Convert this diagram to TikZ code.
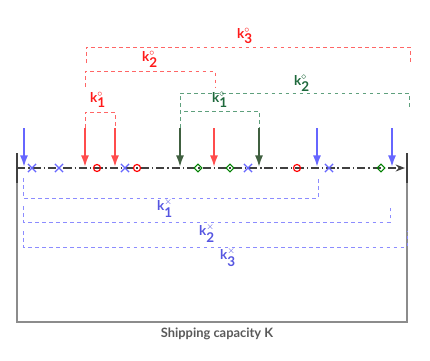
\documentclass[tikz,border=0pt]{standalone}
\usepackage{fontspec}
\setmainfont{Lato}
\usetikzlibrary{arrows.meta,shapes.misc,shapes.geometric}
\definecolor{darkgreen}{RGB}{64,96,64}
\definecolor{labgreen}{RGB}{30,105,60}
\definecolor{brgreen}{RGB}{95,160,125}
\definecolor{labblue}{RGB}{85,85,225}
\newcommand{\klab}[2]{$\textbf{k}^{#1}_{\textbf{#2}}$}
\begin{document}
\begin{tikzpicture}[x=0.03cm, y=-0.03cm, >={Latex[length=10pt,width=7pt]},
  item/.style={->, line width=1.7pt},
  bracket/.style={dashed, line width=0.6pt},
  circmark/.style={circle, draw=red, line width=1pt, inner sep=0pt, minimum size=6pt},
  crossmark/.style={cross out, draw=blue!60, line width=1pt, inner sep=0pt, minimum size=6pt},
  diamark/.style={diamond, draw=green!50!black, line width=1pt, inner sep=0pt, minimum size=7pt},
  klabel/.style={font=\fontsize{11.5}{13}\selectfont\bfseries}]
\useasboundingbox (0,0) rectangle (430,360);
% capacity box
\coordinate (boxL) at (17,183);
\coordinate (boxR) at (407,183);
\draw[black!45, line width=1.5pt] (boxL) |- (217,322) -| (boxR);
\node[text=black!65, font=\fontsize{11}{13}\selectfont\bfseries] (cap) at (217,334) {Shipping capacity K};
% timeline
\coordinate (startT) at (17,153);
\coordinate (startB) at (17,183);
\coordinate (endT) at (407,153);
\coordinate (endB) at (407,183);
\coordinate (lineL) at (17,168);
\coordinate (lineR) at (405,168);
\draw[black!75, line width=1.3pt] (startT) -- (startB);
\draw[black!75, line width=1.3pt] (endT) -- (endB);
\draw[black!75, line width=1.2pt, dash pattern=on 7pt off 2.5pt on 1.2pt off 2.5pt,
  -{Stealth[length=8pt,width=6pt]}] (lineL) -- (lineR);
% markers on the line
\foreach \x [count=\i] in {32,59,125,248,329}
  \node[crossmark] (cross\i) at (\x,168) {};
\foreach \x [count=\i] in {97,137,297}
  \node[circmark] (circ\i) at (\x,168) {};
\foreach \x [count=\i] in {198,230,381}
  \node[diamark] (dia\i) at (\x,168) {};
% incoming items
\foreach \x [count=\i] in {24,317,392} {
  \coordinate (blueT\i) at (\x,128);
  \coordinate (blueB\i) at (\x,167);
  \draw[item, blue!60] (blueT\i) -- (blueB\i);
}
\foreach \x [count=\i] in {85,115,214} {
  \coordinate (redT\i) at (\x,128);
  \coordinate (redB\i) at (\x,167);
  \draw[item, red!70] (redT\i) -- (redB\i);
}
\foreach \x [count=\i] in {180,259} {
  \coordinate (greenT\i) at (\x,128);
  \coordinate (greenB\i) at (\x,167);
  \draw[item, darkgreen] (greenT\i) -- (greenB\i);
}
% red brackets
\coordinate (rk2a) at (85,87);
\coordinate (rk2b) at (215,87);
\coordinate (rk3a) at (86,63);
\coordinate (rk3b) at (410,63);
\draw[bracket, red!60] (redT1) -- ++(0,-16) -| (redT2);
\draw[bracket, red!60] (rk2a) -- ++(0,-16) -| (rk2b);
\draw[bracket, red!60] (rk3a) -- ++(0,-16) -| (rk3b);
\node[klabel, text=red!90] (rk1) at (98,100) {\klab{\circ}{1}};
\node[klabel, text=red!90] (rk2) at (150,59) {\klab{\circ}{2}};
\node[klabel, text=red!90] (rk3) at (245,36) {\klab{\circ}{3}};
% green brackets
\coordinate (gk2b) at (409,107);
\draw[bracket, brgreen] (greenT1) -- ++(0,-17) -| (greenT2);
\draw[bracket, brgreen] (greenT1) -- ++(0,-35) -| (gk2b);
\node[klabel, text=labgreen] (gk1) at (220,100) {\klab{\diamond}{1}};
\node[klabel, text=labgreen] (gk2) at (302,83) {\klab{\diamond}{2}};
% blue brackets
\coordinate (bk1a) at (23,178);
\coordinate (bk1b) at (318,178);
\coordinate (bk2a) at (23,206);
\coordinate (bk2b) at (390,206);
\coordinate (bk3a) at (23,231);
\coordinate (bk3b) at (407,231);
\draw[bracket, blue!45] (bk1a) -- ++(0,20) -| (bk1b);
\draw[bracket, blue!45] (bk2a) -- ++(0,16) -| (bk2b);
\draw[bracket, blue!45] (bk3a) -- ++(0,16) -| (bk3b);
\node[klabel, text=labblue] (bk1) at (165,208) {\klab{\times}{1}};
\node[klabel, text=labblue] (bk2) at (207,233) {\klab{\times}{2}};
\node[klabel, text=labblue] (bk3) at (228,257) {\klab{\times}{3}};
\end{tikzpicture}
\end{document}
